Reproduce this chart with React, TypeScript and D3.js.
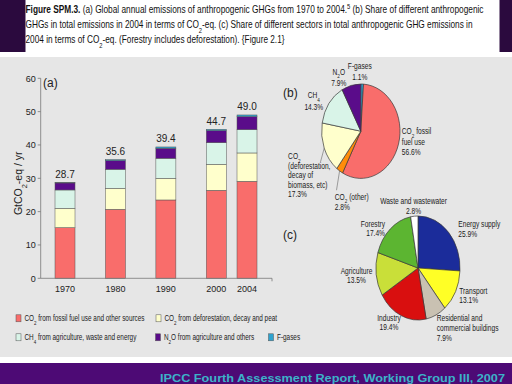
import * as d3 from "d3";

// (a) annual emissions, GtCO2-eq / yr
const years = [1970, 1980, 1990, 2000, 2004];
const co2Fossil = [15.2, 20.7, 23.5, 26.4, 29.1];
const co2Forest = [5.8, 6.3, 6.5, 7.8, 8.5];
const ch4 = [5.5, 5.7, 6.0, 6.5, 7.0];
const n2o = [2.1, 2.6, 3.0, 3.6, 3.9];
const fGases = [0.1, 0.3, 0.4, 0.4, 0.5];
const totals = ["28.7", "35.6", "39.4", "44.7", "49.0"];
const yTicks = [0, 10, 20, 30, 40, 50, 60];

const gasKeys = ["co2Fossil", "co2Forest", "ch4", "n2o", "fGases"];
const gasColors = ["#f96d6b", "#ffffcc", "#d9f4e8", "#5a0c8a", "#2ea3cf"];
const legendLabels = [
  "CO_2 from fossil fuel use and other sources",
  "CO_2 from deforestation, decay and peat",
  "CH_4 from agriculture, waste and energy",
  "N_2O from agriculture and others",
  "F-gases",
];

// (b) share of gases in 2004
const gasShareNames = [
  ["F-gases"],
  ["CO_2 fossil", "fuel use"],
  ["CO_2 (other)"],
  ["CO_2", "(deforestation,", "decay of", "biomass, etc)"],
  ["CH_4"],
  ["N_2O"],
];
const gasShares = [1.1, 56.6, 2.8, 17.3, 14.3, 7.9];
const gasShareColors = ["#2ea3cf", "#f96d6b", "#ff8c0a", "#ffffcc", "#d9f4e8", "#5a0c8a"];

// (c) share of sectors in 2004
const sectorNames = [
  ["Energy supply"],
  ["Transport"],
  ["Residential and", "commercial buildings"],
  ["Industry"],
  ["Agriculture"],
  ["Forestry"],
  ["Waste and wastewater"],
];
const sectorShares = [25.9, 13.1, 7.9, 19.4, 13.5, 17.4, 2.8];
const sectorColors = ["#1b2c9a", "#ffff26", "#c9c1b2", "#d90f0f", "#c9df39", "#5cb531", "#ffffff"];

const captionLines = [
  "  (a) Global annual emissions of anthropogenic GHGs from 1970 to 2004.^5 (b) Share of different anthropogenic",
  "GHGs in total emissions in 2004 in terms of CO_2-eq. (c) Share of different sectors in total anthropogenic GHG emissions in",
  "2004 in terms of CO_2-eq. (Forestry includes deforestation). {Figure 2.1}",
];
const footer = "IPCC Fourth Assessment Report, Working Group III, 2007";

const SANS = "'Liberation Sans', Arial, sans-serif";
const NARROW_X = 0.78; // Arial Narrow look: squeeze Arial-metric text horizontally

// label placement relative to the pie centres
const gasLabelPos = [
  { dx: -1, dy: -62, anchor: "middle", lh: 10.5 },
  { dx: 41, dy: 3, anchor: "start", lh: 10.3 },
  { dx: -26, dy: 68.5, anchor: "start", lh: 10 },
  { dx: -72.7, dy: 28, anchor: "start", lh: 9.5 },
  { dx: -47, dy: -33, anchor: "middle", lh: 11.5 },
  { dx: -22, dy: -56.5, anchor: "middle", lh: 11 },
];
const gasLeaders: Record<number, { dx: number; dy: number }> = {
  2: { dx: -24.3, dy: 59 },
  3: { dx: -40.3, dy: 30.7 },
};
const sectorLabelPos = [
  { dx: 40.3, dy: -40.7, anchor: "start", lh: 10 },
  { dx: 41.3, dy: 26, anchor: "start", lh: 9 },
  { dx: 18.7, dy: 53.3, anchor: "start", lh: 10 },
  { dx: -29, dy: 52.7, anchor: "middle", lh: 9 },
  { dx: -61.5, dy: 6, anchor: "middle", lh: 9 },
  { dx: -33, dy: -40.7, anchor: "end", lh: 9 },
  { dx: -4.5, dy: -64, anchor: "middle", lh: 10 },
];

// "_2" -> subscript, "^5" -> superscript
function Rich({ s }: { s: string }) {
  const parts = s.split(/([_^])(\d)/);
  const out = [];
  for (let i = 0; i < parts.length; i += 3) {
    if (parts[i]) out.push(<tspan key={i}>{parts[i]}</tspan>);
    if (parts[i + 1]) {
      out.push(
        <tspan key={i + 1} fontSize="70%" baselineShift={parts[i + 1] === "_" ? "sub" : "super"}>
          {parts[i + 2]}
        </tspan>
      );
    }
  }
  return <>{out}</>;
}

function NText({ x, y, s, size = 8.5, anchor = "start" }: { x: number; y: number; s: string; size?: number; anchor?: string }) {
  return (
    <text transform={`translate(${x},${y}) scale(${NARROW_X},1)`} textAnchor={anchor} fontSize={size} fontFamily={SANS} fill="#1a1a1a">
      <Rich s={s} />
    </text>
  );
}

function EllipsePie({
  cx, cy, rx, ry, values, colors, names, labelPos, leaders = {},
}: {
  cx: number; cy: number; rx: number; ry: number;
  values: number[]; colors: string[]; names: string[][];
  labelPos: { dx: number; dy: number; anchor: string; lh: number }[];
  leaders?: Record<number, { dx: number; dy: number }>;
}) {
  const arcs = d3.pie<number>().sort(null).value((d) => d)(values);
  const arc = d3.arc<d3.PieArcDatum<number>>().innerRadius(0).outerRadius(ry);
  return (
    <g>
      <g transform={`translate(${cx},${cy}) scale(${rx / ry},1)`}>
        {arcs.map((a, i) => (
          <path key={i} d={arc(a) ?? ""} fill={colors[i]} stroke="#3a3a3a" strokeWidth={0.7} vectorEffect="non-scaling-stroke" />
        ))}
      </g>
      {arcs.map((a, i) => {
        const p = labelPos[i];
        const lines = [...names[i], `${values[i].toFixed(1)}%`];
        const lead = leaders[i];
        const mid = (a.startAngle + a.endAngle) / 2;
        return (
          <g key={i}>
            {lead && (
              <line
                x1={cx + lead.dx} y1={cy + lead.dy}
                x2={cx + rx * Math.sin(mid)} y2={cy - ry * Math.cos(mid)}
                stroke="#666" strokeWidth={0.6}
              />
            )}
            {lines.map((l, j) => (
              <NText key={j} x={cx + p.dx} y={cy + p.dy + j * p.lh} s={l} anchor={p.anchor} />
            ))}
          </g>
        );
      })}
    </g>
  );
}

export default function App() {
  const rows = years.map((year, i) => ({
    year,
    co2Fossil: co2Fossil[i],
    co2Forest: co2Forest[i],
    ch4: ch4[i],
    n2o: n2o[i],
    fGases: fGases[i],
  }));
  const series = d3.stack<any>().keys(gasKeys)(rows);
  const top = series[series.length - 1];

  const plotLeft = 40.7;
  const plotRight = 272;
  const y = d3.scaleLinear().domain([0, 60]).range([278.3, 78.3]);
  // broken time axis: 2000-2004 is drawn wider than the decades
  const x = d3.scaleLinear().domain([1970, 2000, 2004]).range([65, 216.3, 247]);
  const barW = 20;

  const legendPos = [
    [16, 318.3], [156, 318.3], [16, 337.3], [155.5, 337.3], [268.5, 337.3],
  ];

  return (
    <svg width={512} height={384} style={{ position: "absolute", left: 0, top: 0 }}>
      <rect width={512} height={384} fill="#2b0a3e" />
      <rect x={25.5} y={0} width={474} height={53} fill="#ffffff" />
      <rect x={0} y={52} width={512} height={311} fill="#ffffff" />
      <rect x={0} y={57} width={512} height={300} fill="#e6e6e6" />
      <rect x={0} y={363} width={512} height={21} fill="#4d0a75" />

      {/* caption */}
      <text x={25.5} y={13} fontSize={11.5} fontFamily={SANS} fill="#111" textLength={458} lengthAdjust="spacingAndGlyphs">
        <tspan fontWeight="bold">Figure SPM.3.</tspan>
        <Rich s={captionLines[0]} />
      </text>
      <text x={25.5} y={28} fontSize={11.5} fontFamily={SANS} fill="#111" textLength={447} lengthAdjust="spacingAndGlyphs">
        <Rich s={captionLines[1]} />
      </text>
      <text x={25.5} y={43} fontSize={11.5} fontFamily={SANS} fill="#111" textLength={259} lengthAdjust="spacingAndGlyphs">
        <Rich s={captionLines[2]} />
      </text>

      {/* (a) stacked bars */}
      <text x={43} y={86.5} fontSize={12} fontFamily={SANS} fill="#222">(a)</text>
      <text transform={`translate(21.5,${(y(0) + y(60)) / 2 + 5}) rotate(-90)`} textAnchor="middle" fontSize={10.5} fontFamily={SANS} fill="#222">
        <Rich s="GtCO_2-eq / yr" />
      </text>
      {series.map((s, k) => (
        <g key={gasKeys[k]}>
          {s.map((d, i) => (
            <rect
              key={i}
              x={x(years[i]) - barW / 2}
              y={y(d[1])}
              width={barW}
              height={Math.max(0, y(d[0]) - y(d[1]))}
              fill={gasColors[k]}
              stroke="#555"
              strokeWidth={0.5}
            />
          ))}
        </g>
      ))}
      {years.map((yr, i) => (
        <text key={yr} x={x(yr)} y={y(top[i][1]) - 4.5} textAnchor="middle" fontSize={10} fontFamily={SANS} fill="#222">
          {totals[i]}
        </text>
      ))}
      <line x1={plotLeft} x2={plotLeft} y1={y(60)} y2={y(0)} stroke="#777" strokeWidth={0.8} />
      {yTicks.map((t) => (
        <g key={t}>
          <line x1={plotLeft - 3} x2={plotLeft} y1={y(t)} y2={y(t)} stroke="#777" strokeWidth={0.8} />
          <text x={plotLeft - 5} y={y(t) + 3.3} textAnchor="end" fontSize={9} fontFamily={SANS} fill="#222">{t}</text>
        </g>
      ))}
      <line x1={plotLeft} x2={plotRight} y1={y(0)} y2={y(0)} stroke="#777" strokeWidth={0.8} />
      <line x1={plotRight} x2={plotRight} y1={y(0)} y2={y(0) + 3} stroke="#777" strokeWidth={0.8} />
      {years.map((yr) => (
        <text key={yr} x={x(yr)} y={y(0) + 13.5} textAnchor="middle" fontSize={9} fontFamily={SANS} fill="#222">{yr}</text>
      ))}

      {/* legend */}
      {legendLabels.map((l, i) => (
        <g key={i} transform={`translate(${legendPos[i][0]},${legendPos[i][1]})`}>
          <rect x={0} y={-3.5} width={5} height={7} fill={gasColors[i]} stroke="#555" strokeWidth={0.5} />
          <NText x={8.5} y={2.9} s={l} size={8.2} />
        </g>
      ))}

      {/* (b) gases */}
      <text x={283} y={97} fontSize={12} fontFamily={SANS} fill="#222">(b)</text>
      <EllipsePie cx={360.8} cy={131.2} rx={39.2} ry={47.2} values={gasShares} colors={gasShareColors} names={gasShareNames} labelPos={gasLabelPos} leaders={gasLeaders} />

      {/* (c) sectors */}
      <text x={283} y={239} fontSize={12} fontFamily={SANS} fill="#222">(c)</text>
      <EllipsePie cx={418} cy={268} rx={42} ry={52} values={sectorShares} colors={sectorColors} names={sectorNames} labelPos={sectorLabelPos} />

      <text x={505} y={381.5} textAnchor="end" fontSize={11.5} fontWeight="bold" fontFamily={SANS} fill="#3cb2c9" textLength={345} lengthAdjust="spacingAndGlyphs">
        {footer}
      </text>
    </svg>
  );
}
